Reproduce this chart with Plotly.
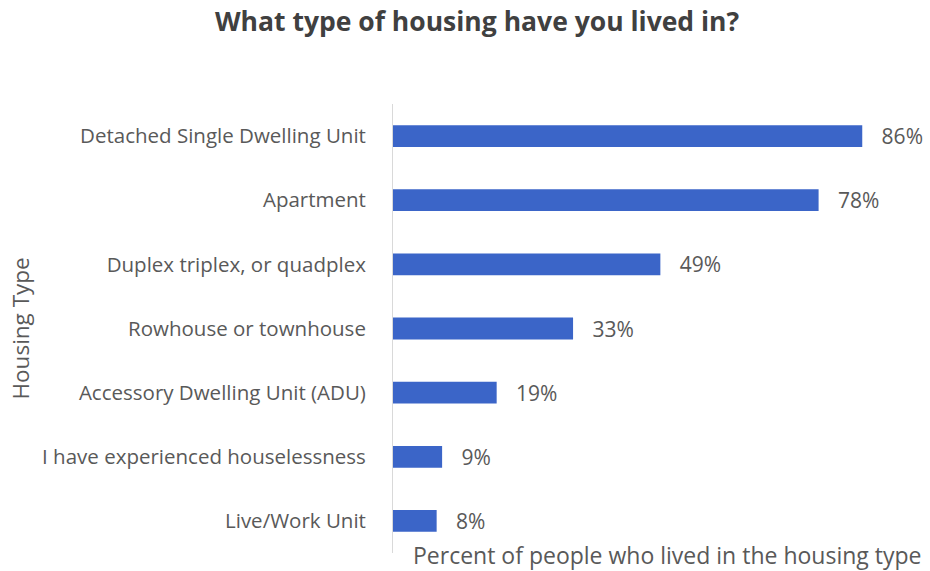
import plotly.graph_objects as go

# Survey responses: share of people who have lived in each housing type
housing_types = [
    "Detached Single Dwelling Unit",
    "Apartment",
    "Duplex triplex, or quadplex",
    "Rowhouse or townhouse",
    "Accessory Dwelling Unit (ADU)",
    "I have experienced houselessness",
    "Live/Work Unit",
]
percent_lived = [86, 78, 49, 33, 19, 9, 8]

bar_color = "#3B65C8"
text_color = "#595959"
font_family = "'Open Sans', sans-serif"

fig = go.Figure(
    go.Bar(
        x=percent_lived,
        y=housing_types,
        orientation="h",
        marker=dict(color=bar_color, line=dict(width=0)),
        width=0.34,
        text=[f"   {v}%" for v in percent_lived],
        textposition="outside",
        constraintext="none",
        textfont=dict(size=21, color=text_color, family=font_family),
        cliponaxis=False,
        hoverinfo="skip",
    )
)

fig.update_layout(
    width=930,
    height=571,
    margin=dict(l=393, r=5, t=104, b=18),
    paper_bgcolor="white",
    plot_bgcolor="white",
    showlegend=False,
    font=dict(family=font_family, color=text_color),
    title=dict(
        text="<b>What type of housing have you lived in?</b>",
        x=0.513,
        xanchor="center",
        y=0.962,
        yanchor="middle",
        font=dict(size=26.5, color="#404040", family=font_family),
    ),
    xaxis=dict(
        range=[0, 97.5],
        showticklabels=False,
        showgrid=False,
        zeroline=False,
        showline=False,
        ticks="",
        fixedrange=True,
    ),
    yaxis=dict(
        categoryorder="array",
        categoryarray=housing_types[::-1],
        showgrid=False,
        zeroline=False,
        showline=True,
        linecolor="#D9D9D9",
        linewidth=1,
        ticks="",
        ticklabelstandoff=22,
        tickfont=dict(size=20.5, color=text_color, family=font_family),
        fixedrange=True,
    ),
    annotations=[
        dict(
            text="Housing Type",
            xref="paper",
            yref="paper",
            x=(20 - 393) / 532,
            y=0.5,
            xanchor="center",
            yanchor="middle",
            textangle=-90,
            showarrow=False,
            font=dict(size=22.5, color=text_color, family=font_family),
        ),
        dict(
            text="Percent of people who lived in the housing type",
            xref="paper",
            yref="paper",
            x=(667 - 393) / 532,
            y=(571 - 18 - 555) / 449,
            xanchor="center",
            yanchor="middle",
            showarrow=False,
            font=dict(size=23, color=text_color, family=font_family),
        ),
    ],
)

fig.write_html("out.html")
